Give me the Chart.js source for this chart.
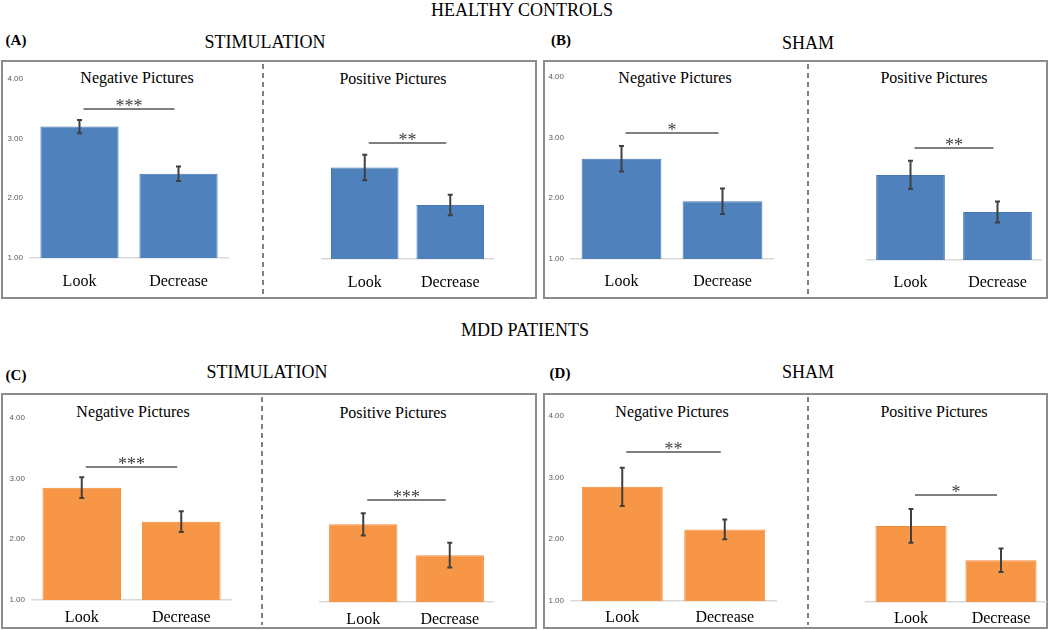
<!DOCTYPE html>
<html lang="en">
<head>
<meta charset="UTF-8">
<title>Reappraisal ratings - Healthy controls vs MDD patients</title>
<script src="https://cdn.jsdelivr.net/npm/chart.js"></script>
<style>
  html, body { margin: 0; padding: 0; overflow: hidden; background: #fff; }
  body { width: 1050px; height: 630px; position: relative; font-family: "Liberation Serif", "Times New Roman", serif; color: #000; }
  .txt { position: absolute; transform: translate(-50%, -50%); white-space: nowrap; line-height: 1; }
  .head { font-size: 18px; }
  .tag { font-size: 15px; font-weight: bold; }
  .sub { font-size: 16px; }
  .box { position: absolute; border: 2px solid #8c8c8c; box-sizing: border-box; }
  .divider { position: absolute; width: 2px; background: repeating-linear-gradient(to bottom, #808080 0 5px, transparent 5px 9px); }
  canvas { position: absolute; }
</style>
</head>
<body>
  <div class="txt head" style="left:522px; top:10px;">HEALTHY CONTROLS</div>
  <div class="txt head" style="left:525px; top:330px;">MDD PATIENTS</div>

  <div class="txt tag" style="left:16px; top:40px;">(A)</div>
  <div class="txt head" style="left:265px; top:42px;">STIMULATION</div>
  <div class="txt tag" style="left:561px; top:40px;">(B)</div>
  <div class="txt head" style="left:808px; top:43px;">SHAM</div>
  <div class="txt tag" style="left:16px; top:375px;">(C)</div>
  <div class="txt head" style="left:267px; top:372px;">STIMULATION</div>
  <div class="txt tag" style="left:560px; top:373px;">(D)</div>
  <div class="txt head" style="left:808px; top:372px;">SHAM</div>

  <div class="box" style="left:1px; top:60px; width:536px; height:239px;"></div>
  <div class="box" style="left:543px; top:60px; width:505px; height:239px;"></div>
  <div class="box" style="left:1px; top:393px; width:536px; height:236px;"></div>
  <div class="box" style="left:543px; top:393px; width:505px; height:236px;"></div>

  <div class="divider" style="left:262px; top:64px; height:230px;"></div>
  <div class="divider" style="left:807px; top:64px; height:230px;"></div>
  <div class="divider" style="left:261px; top:397px; height:228px;"></div>
  <div class="divider" style="left:807px; top:397px; height:228px;"></div>

  <div class="txt sub" style="left:137px; top:78px;">Negative Pictures</div>
  <div class="txt sub" style="left:393px; top:79px;">Positive Pictures</div>
  <div class="txt sub" style="left:675px; top:78px;">Negative Pictures</div>
  <div class="txt sub" style="left:934px; top:78px;">Positive Pictures</div>
  <div class="txt sub" style="left:133px; top:412px;">Negative Pictures</div>
  <div class="txt sub" style="left:393px; top:413px;">Positive Pictures</div>
  <div class="txt sub" style="left:672px; top:412px;">Negative Pictures</div>
  <div class="txt sub" style="left:934px; top:412px;">Positive Pictures</div>

  <script>
    // values, panel order: A (HC stim), B (HC sham), C (MDD stim), D (MDD sham)
    const categories = ["Look", "Decrease"];
    const yMin = 1, yMax = 4;

    const negMeans  = [[3.20, 2.41], [2.65, 1.95], [2.85, 2.29], [2.85, 2.16]];
    const negErrors = [[0.11, 0.12], [0.21, 0.21], [0.17, 0.17], [0.31, 0.16]];
    const posMeans  = [[2.51, 1.89], [2.38, 1.78], [2.26, 1.76], [2.22, 1.67]];
    const posErrors = [[0.21, 0.17], [0.23, 0.17], [0.18, 0.20], [0.27, 0.19]];

    // height of the significance line and its stars
    const negSig   = [3.49, 3.07, 3.19, 3.42];
    const negStars = ["***", "*", "***", "**"];
    const posSig   = [2.92, 2.82, 2.65, 2.71];
    const posStars = ["**", "**", "***", "*"];

    const panelColors = [
      { fill: "#4F81BD", edge: "#4677b4" },
      { fill: "#4F81BD", edge: "#4677b4" },
      { fill: "#F79646", edge: "#f18b39" },
      { fill: "#F79646", edge: "#f18b39" }
    ];

    // plot areas on the page: x0..x1 category axis, yT = value 4, yB = value 1
    const negGeom = [
      { x0: 30, x1: 228, yT: 77, yB: 258, lab: 14 },
      { x0: 571, x1: 773, yT: 75, yB: 259, lab: 13 },
      { x0: 32, x1: 231, yT: 416, yB: 600, lab: 8 },
      { x0: 571, x1: 776, yT: 414, yB: 601, lab: 7 }
    ];
    const posGeom = [
      { x0: 292, x1: 493, yT: 77, yB: 259, lab: 14 },
      { x0: 837, x1: 1041, yT: 75, yB: 260, lab: 13 },
      { x0: 290, x1: 493, yT: 417, yB: 602, lab: 8 },
      { x0: 836, x1: 1046, yT: 415, yB: 602, lab: 7 }
    ];

    const Y_AXIS_W = 30, PAD_TOP = 10, X_AXIS_H = 36;

    const errorBarPlugin = {
      id: "errbars",
      afterDatasetsDraw(chart, args, opts) {
        const ctx = chart.ctx;
        const meta = chart.getDatasetMeta(0);
        const y = chart.scales.y;
        const vals = chart.data.datasets[0].data;
        ctx.save();
        ctx.lineWidth = 2;
        ctx.strokeStyle = "#404040";
        meta.data.forEach((bar, i) => {
          const top = y.getPixelForValue(vals[i] + opts.errors[i]);
          const bot = y.getPixelForValue(vals[i] - opts.errors[i]);
          ctx.beginPath();
          ctx.moveTo(bar.x, top); ctx.lineTo(bar.x, bot);
          ctx.moveTo(bar.x - 2.5, top); ctx.lineTo(bar.x + 2.5, top);
          ctx.moveTo(bar.x - 2.5, bot); ctx.lineTo(bar.x + 2.5, bot);
          ctx.stroke();
        });
        // significance line between Look and Decrease
        const ys = Math.round(y.getPixelForValue(opts.sig));
        const xa = meta.data[0].x + 4, xb = meta.data[1].x - 4;
        ctx.strokeStyle = "#7f7f7f";
        ctx.beginPath(); ctx.moveTo(xa, ys); ctx.lineTo(xb, ys); ctx.stroke();
        ctx.fillStyle = "#404040";
        ctx.font = '18px "Liberation Serif"';
        ctx.textAlign = "center";
        ctx.textBaseline = "alphabetic";
        ctx.fillText(opts.stars, (xa + xb) / 2, ys + 3);
        ctx.restore();
      }
    };

    function makeChart(g, means, errors, sig, stars, color, showY) {
      const leftPad = showY ? 0 : 2;
      const cv = document.createElement("canvas");
      const w = (showY ? Y_AXIS_W : 0) + leftPad + (g.x1 - g.x0) + 2;
      const h = PAD_TOP + (g.yB - g.yT) + X_AXIS_H;
      cv.width = w; cv.height = h;
      cv.style.left = (g.x0 - (showY ? Y_AXIS_W : 0) - leftPad) + "px";
      cv.style.top = (g.yT - PAD_TOP) + "px";
      cv.style.width = w + "px"; cv.style.height = h + "px";
      document.body.appendChild(cv);

      new Chart(cv.getContext("2d"), {
        type: "bar",
        data: {
          labels: categories,
          datasets: [{
            data: means,
            backgroundColor: color.fill,
            borderColor: color.edge,
            borderWidth: 1,
            barPercentage: 0.79,
            categoryPercentage: 1.0
          }]
        },
        options: {
          responsive: false,
          animation: false,
          devicePixelRatio: 1,
          layout: { padding: { top: PAD_TOP, left: leftPad, right: 2, bottom: 0 } },
          plugins: {
            legend: { display: false },
            tooltip: { enabled: false },
            errbars: { errors: errors, sig: sig, stars: stars }
          },
          scales: {
            x: {
              grid: { display: false, drawTicks: false },
              border: { display: true, color: "#d9d9d9", width: 1.5 },
              ticks: { color: "#000", padding: g.lab, font: { family: "Liberation Serif", size: 16 } },
              afterFit: s => { s.height = X_AXIS_H; }
            },
            y: {
              display: showY,
              min: yMin, max: yMax,
              grid: { display: false, drawTicks: false },
              border: { display: false },
              ticks: {
                stepSize: 1, padding: 7, color: "#595959",
                font: { family: "Liberation Sans", size: 8 },
                callback: v => Number(v).toFixed(2)
              },
              afterFit: s => { s.width = Y_AXIS_W; }
            }
          }
        },
        plugins: [errorBarPlugin]
      });
    }

    for (let p = 0; p < 4; p++) {
      makeChart(negGeom[p], negMeans[p], negErrors[p], negSig[p], negStars[p], panelColors[p], true);
      makeChart(posGeom[p], posMeans[p], posErrors[p], posSig[p], posStars[p], panelColors[p], false);
    }
  </script>
</body>
</html>
